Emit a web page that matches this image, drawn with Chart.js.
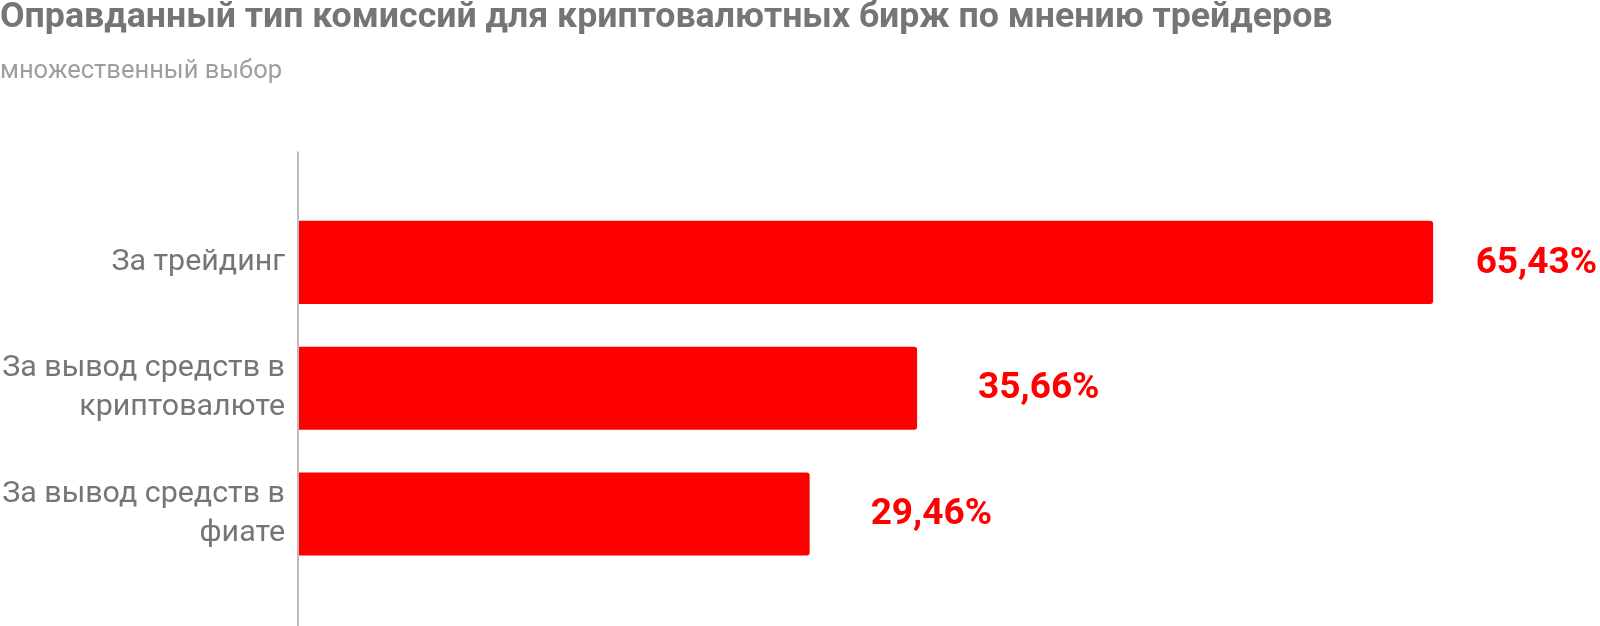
<!DOCTYPE html>
<html>
<head>
<meta charset="utf-8">
<script src="https://cdn.jsdelivr.net/npm/chart.js@4/dist/chart.umd.min.js"></script>
<style>
    body { margin: 0; background: #fff; }
    #wrap { width: 1600px; height: 626px; position: relative; }
</style>
</head>
<body>
<div id="wrap"><canvas id="commChart"></canvas></div>
<script>
var categories = [
    "За трейдинг",
    ["За вывод средств в", "криптовалюте"],
    ["За вывод средств в", "фиате"]
];
var shares = [65.43, 35.66, 29.46];

// подписи значений справа от столбцов
var valueLabels = {
    id: 'valueLabels',
    afterDatasetsDraw: function (chart) {
        var ctx = chart.ctx;
        var meta = chart.getDatasetMeta(0);
        ctx.save();
        ctx.font = 'bold 37px Roboto';
        ctx.fillStyle = '#ff0000';
        ctx.textAlign = 'left';
        ctx.textBaseline = 'middle';
        meta.data.forEach(function (bar, i) {
            var txt = shares[i].toFixed(2).replace('.', ',') + '%';
            var w = ctx.measureText(txt).width;
            var x = Math.min(bar.x + 61, chart.width - 3 - w);
            ctx.fillText(txt, x, bar.y + 1);
        });
        ctx.restore();
    }
};

// вертикальная ось длиннее области столбцов
var axisLine = {
    id: 'axisLine',
    beforeDatasetsDraw: function (chart) {
        var a = chart.chartArea;
        var ctx = chart.ctx;
        ctx.save();
        ctx.strokeStyle = '#bdbdbd';
        ctx.lineWidth = 2;
        ctx.beginPath();
        ctx.moveTo(a.left - 1, a.top - 48);
        ctx.lineTo(a.left - 1, a.bottom + 49);
        ctx.stroke();
        ctx.restore();
    }
};

var comm = document.getElementById("commChart");
var commChart = new Chart(comm, {
    type: 'bar',
    data: {
        labels: categories,
        datasets: [{
            data: shares,
            backgroundColor: '#ff0000',
            borderRadius: 3,
            borderSkipped: 'start',
            categoryPercentage: 1,
            barPercentage: 0.66
        }]
    },
    plugins: [axisLine, valueLabels],
    options: {
        indexAxis: 'y',
        responsive: true,
        maintainAspectRatio: false,
        animation: false,
        layout: {
            padding: { top: 0, right: 1, bottom: 49, left: 0 }
        },
        plugins: {
            legend: { display: false },
            tooltip: { enabled: false },
            title: {
                display: true,
                text: 'Оправданный тип комиссий для криптовалютных бирж по мнению трейдеров',
                align: 'start',
                color: '#757575',
                font: { family: 'Roboto', size: 35.7, weight: 'bold', lineHeight: 1.2 },
                padding: { top: -3, bottom: 16 }
            },
            subtitle: {
                display: true,
                text: 'множественный выбор',
                align: 'start',
                color: '#9e9e9e',
                font: { family: 'Roboto', size: 25.5, lineHeight: 1.2 },
                padding: { top: 0, bottom: 113 }
            }
        },
        scales: {
            x: {
                display: false,
                min: 0,
                max: 75
            },
            y: {
                grid: { display: false, drawTicks: false },
                border: { display: false },
                ticks: {
                    color: '#757575',
                    padding: 14,
                    font: { family: 'Roboto', size: 30.4, lineHeight: 1.29 }
                },
                afterFit: function (scale) {
                    scale.width = 299;
                }
            }
        }
    }
});
</script>
</body>
</html>
